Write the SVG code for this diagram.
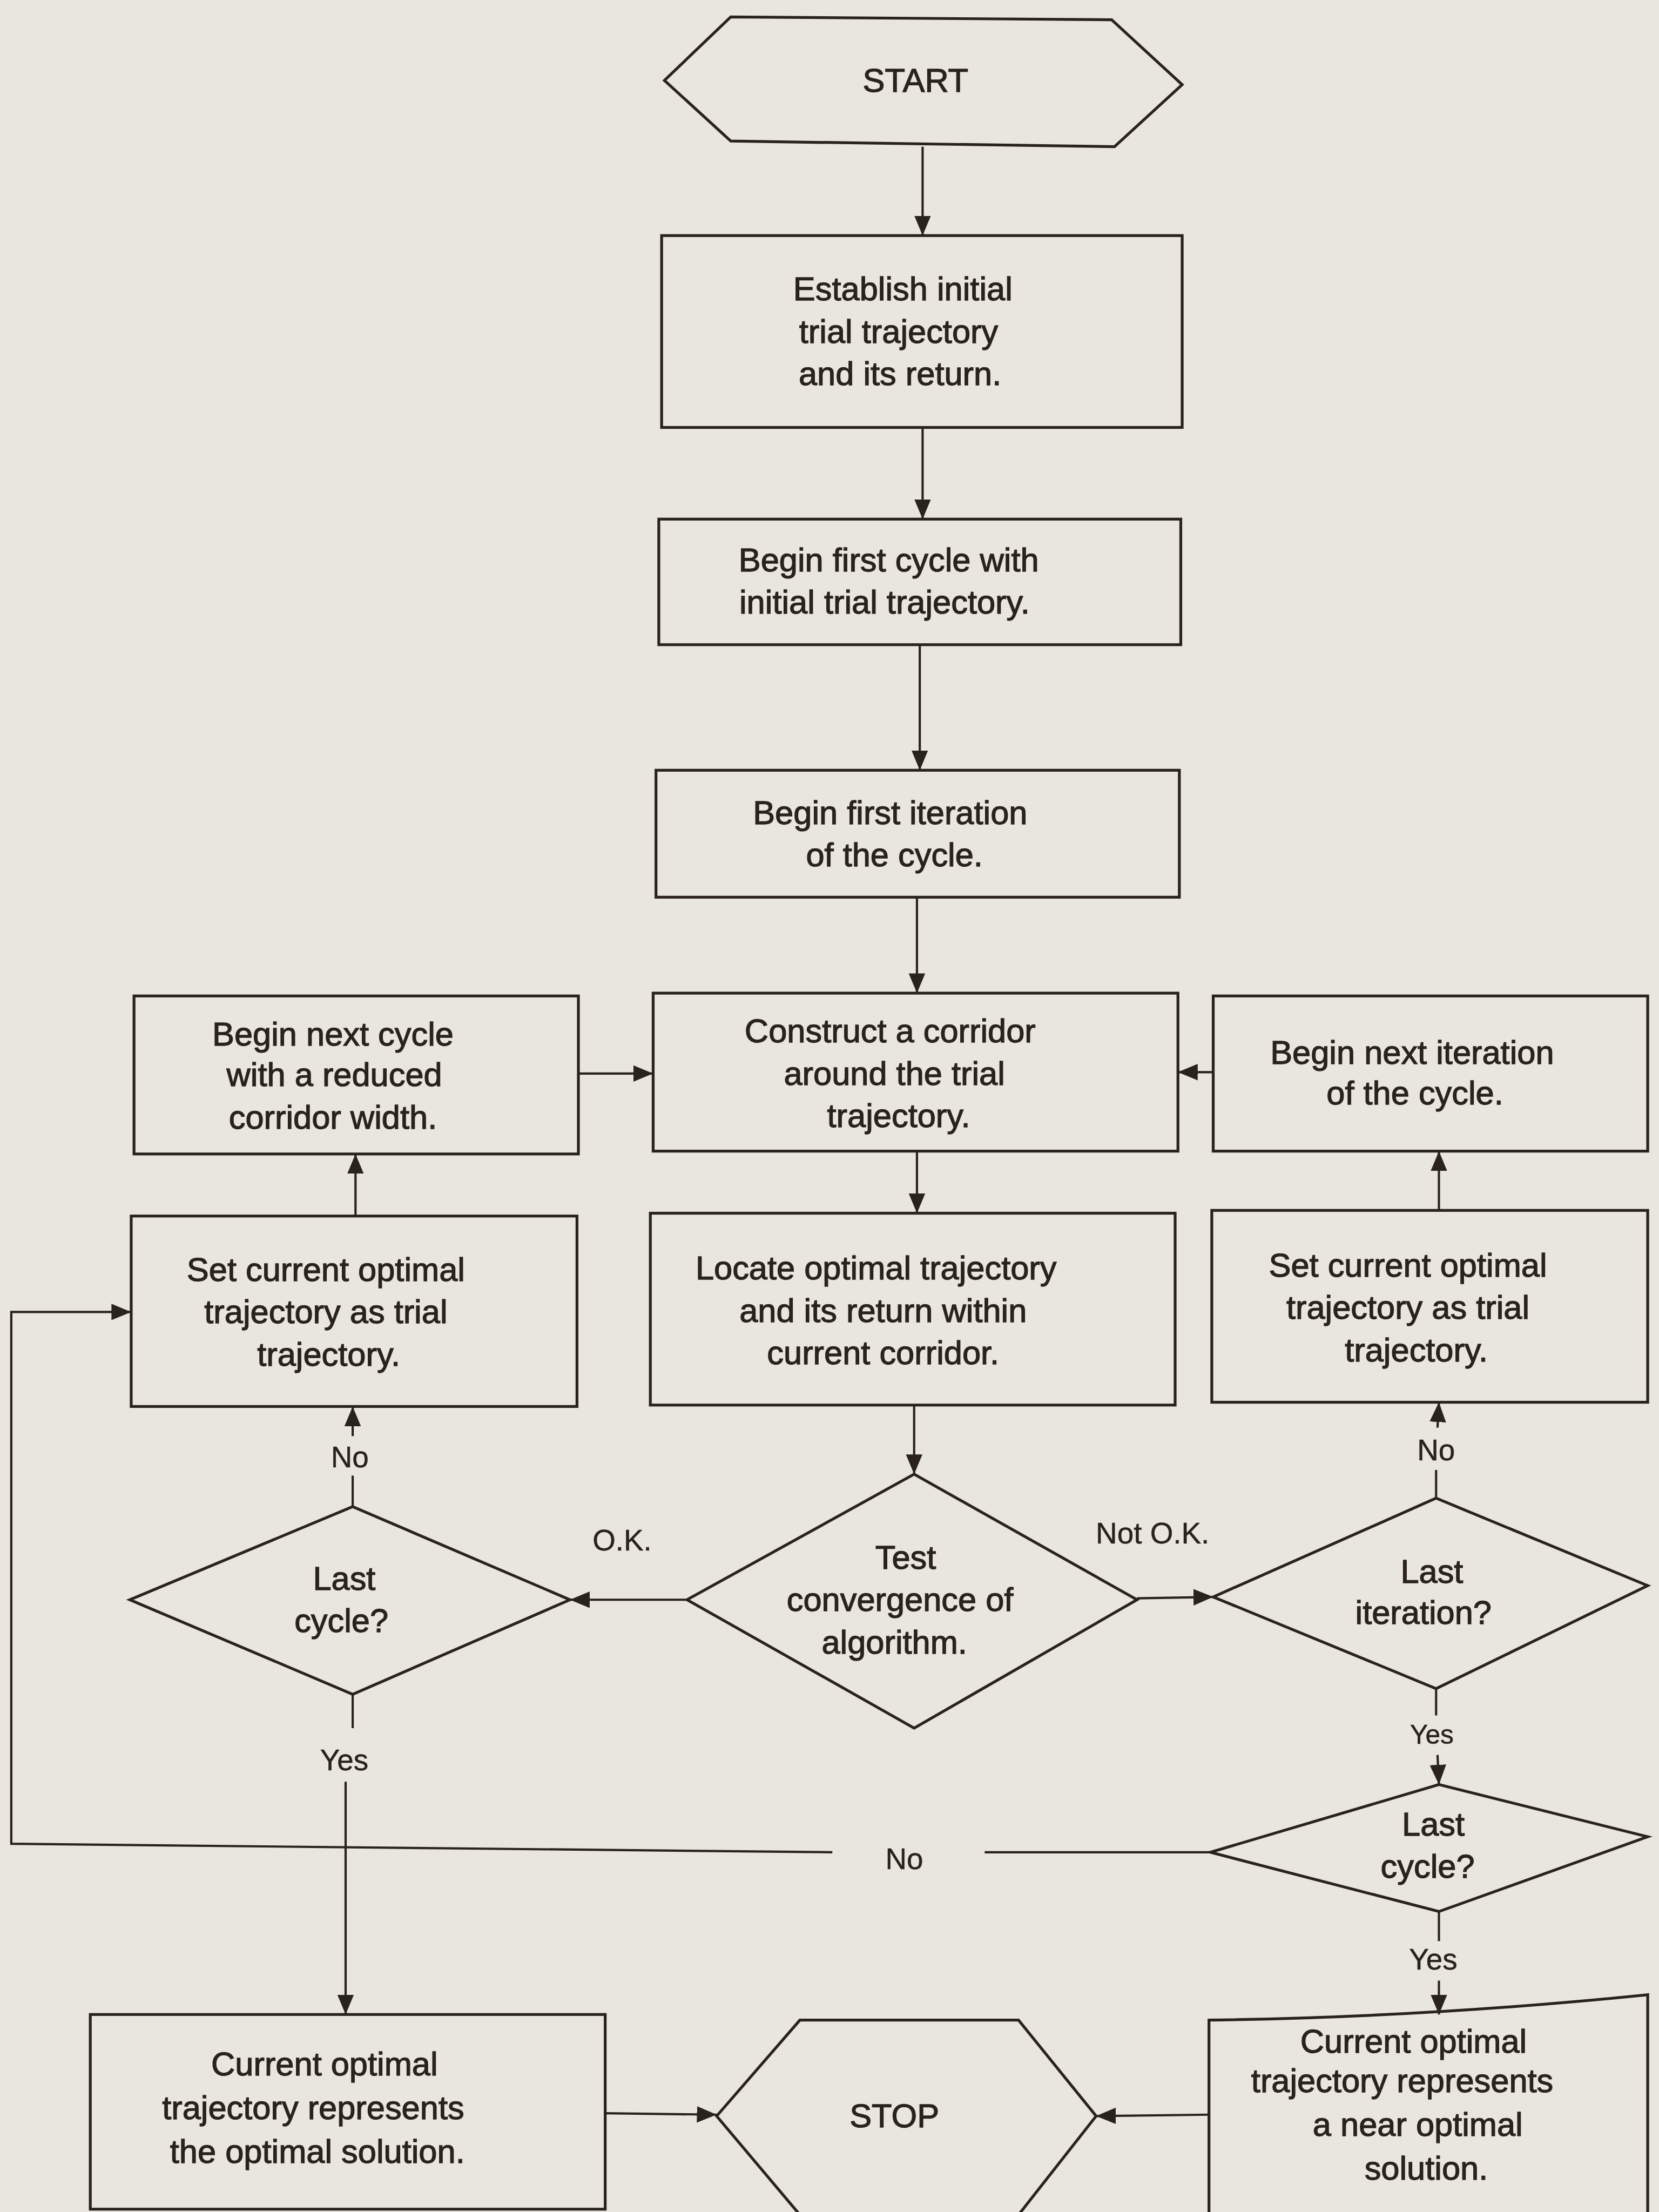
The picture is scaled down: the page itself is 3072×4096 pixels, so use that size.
<svg xmlns="http://www.w3.org/2000/svg" width="3072" height="4096" viewBox="0 0 3072 4096">
<defs>
<style>
.bg{fill:#e8e6dd}
.shape{fill:none;stroke:#2a221d;stroke-width:2;stroke-linejoin:miter}
.conn{fill:none;stroke:#2a221d;stroke-width:1.6}
.t{font-family:"Liberation Sans",Arial,sans-serif;font-size:23.5px;fill:#2a221d;stroke:#2a221d;stroke-width:0.5;text-anchor:middle}
.l{font-family:"Liberation Sans",Arial,sans-serif;font-size:21px;fill:#2a221d;stroke:#2a221d;stroke-width:0.2;text-anchor:middle}
</style>
<marker id="ah" viewBox="0 0 12 10" refX="12" refY="5" markerWidth="14" markerHeight="12" markerUnits="userSpaceOnUse" orient="auto">
<path d="M0,0 L12,5 L0,10 z" fill="#2a221d"/>
</marker>
</defs>
<rect class="bg" x="0" y="0" width="3072" height="4096"/>
<g transform="scale(2.61224)">
<g id="start">
<polygon class="shape" points="471,57 518,12 788,14 838,60 790,104 518,100"/>
<text class="t" x="649" y="65">START</text>
</g>
<g id="establish">
<rect class="shape" x="469" y="167" width="369" height="136"/>
<text class="t" x="640" y="213">Establish initial</text>
<text class="t" x="637" y="243">trial trajectory</text>
<text class="t" x="638" y="273">and its return.</text>
</g>
<g id="begin-first-cycle">
<rect class="shape" x="467" y="368" width="370" height="89"/>
<text class="t" x="630" y="405">Begin first cycle with</text>
<text class="t" x="627" y="435">initial trial trajectory.</text>
</g>
<g id="begin-first-iteration">
<rect class="shape" x="465" y="546" width="371" height="90"/>
<text class="t" x="631" y="584">Begin first iteration</text>
<text class="t" x="634" y="614">of the cycle.</text>
</g>
<g id="construct-corridor">
<rect class="shape" x="463" y="704" width="372" height="112"/>
<text class="t" x="631" y="739">Construct a corridor</text>
<text class="t" x="634" y="769">around the trial</text>
<text class="t" x="637" y="799">trajectory.</text>
</g>
<g id="begin-next-cycle">
<rect class="shape" x="95" y="706" width="315" height="112"/>
<text class="t" x="236" y="741">Begin next cycle</text>
<text class="t" x="237" y="770">with a reduced</text>
<text class="t" x="236" y="800">corridor width.</text>
</g>
<g id="begin-next-iteration">
<rect class="shape" x="860" y="706" width="308" height="110"/>
<text class="t" x="1001" y="754">Begin next iteration</text>
<text class="t" x="1003" y="783">of the cycle.</text>
</g>
<g id="locate-optimal">
<rect class="shape" x="461" y="860" width="372" height="136"/>
<text class="t" x="621" y="907">Locate optimal trajectory</text>
<text class="t" x="626" y="937">and its return within</text>
<text class="t" x="626" y="967">current corridor.</text>
</g>
<g id="set-current-left">
<rect class="shape" x="93" y="862" width="316" height="135"/>
<text class="t" x="231" y="908">Set current optimal</text>
<text class="t" x="231" y="938">trajectory as trial</text>
<text class="t" x="233" y="968">trajectory.</text>
</g>
<g id="set-current-right">
<rect class="shape" x="859" y="858" width="309" height="136"/>
<text class="t" x="998" y="905">Set current optimal</text>
<text class="t" x="998" y="935">trajectory as trial</text>
<text class="t" x="1004" y="965">trajectory.</text>
</g>
<g id="test-convergence">
<polygon class="shape" points="648,1045 806,1134 648,1225 487,1134"/>
<text class="t" x="642" y="1112">Test</text>
<text class="t" x="638" y="1142">convergence of</text>
<text class="t" x="634" y="1172">algorithm.</text>
</g>
<g id="last-cycle-left">
<polygon class="shape" points="250,1068 404,1134 250,1201 92,1134"/>
<text class="t" x="244" y="1127">Last</text>
<text class="t" x="242" y="1157">cycle?</text>
</g>
<g id="last-iteration">
<polygon class="shape" points="1018,1062 1168,1124 1018,1197 860,1132"/>
<text class="t" x="1015" y="1122">Last</text>
<text class="t" x="1009" y="1151">iteration?</text>
</g>
<g id="last-cycle-right">
<polygon class="shape" points="1020,1265 1168,1302 1020,1355 858,1313"/>
<text class="t" x="1016" y="1301">Last</text>
<text class="t" x="1012" y="1331">cycle?</text>
</g>
<g id="optimal-solution">
<rect class="shape" x="64" y="1428" width="365" height="138"/>
<text class="t" x="230" y="1471">Current optimal</text>
<text class="t" x="222" y="1502">trajectory represents</text>
<text class="t" x="225" y="1533">the optimal solution.</text>
</g>
<g id="stop">
<polygon class="shape" points="508,1500 567,1432 722,1432 777,1500 722,1570 567,1570"/>
<text class="t" x="634" y="1508">STOP</text>
</g>
<g id="near-optimal">
<path class="shape" d="M857,1432 Q1010,1430 1168,1414 L1168,1570 L857,1570 Z"/>
<text class="t" x="1002" y="1455">Current optimal</text>
<text class="t" x="994" y="1483">trajectory represents</text>
<text class="t" x="1005" y="1514">a near optimal</text>
<text class="t" x="1011" y="1545">solution.</text>
</g>
<g id="connectors">
<line class="conn" x1="654" y1="104" x2="654" y2="167" marker-end="url(#ah)"/>
<line class="conn" x1="654" y1="303" x2="654" y2="368" marker-end="url(#ah)"/>
<line class="conn" x1="652" y1="457" x2="652" y2="546" marker-end="url(#ah)"/>
<line class="conn" x1="650" y1="636" x2="650" y2="704" marker-end="url(#ah)"/>
<line class="conn" x1="410" y1="761" x2="463" y2="761" marker-end="url(#ah)"/>
<line class="conn" x1="860" y1="760" x2="835" y2="760" marker-end="url(#ah)"/>
<line class="conn" x1="650" y1="816" x2="650" y2="860" marker-end="url(#ah)"/>
<line class="conn" x1="252" y1="862" x2="252" y2="818" marker-end="url(#ah)"/>
<line class="conn" x1="1020" y1="858" x2="1020" y2="816" marker-end="url(#ah)"/>
<line class="conn" x1="648" y1="996" x2="648" y2="1045" marker-end="url(#ah)"/>
<line class="conn" x1="487" y1="1134" x2="404" y2="1134" marker-end="url(#ah)"/>
<line class="conn" x1="806" y1="1133" x2="860" y2="1132" marker-end="url(#ah)"/>
<line class="conn" x1="250" y1="1068" x2="250" y2="1046"/>
<line class="conn" x1="250" y1="1018" x2="250" y2="997" marker-end="url(#ah)"/>
<line class="conn" x1="1018" y1="1062" x2="1018" y2="1042"/>
<line class="conn" x1="1019" y1="1012" x2="1020" y2="994" marker-end="url(#ah)"/>
<line class="conn" x1="1018" y1="1197" x2="1018" y2="1216"/>
<line class="conn" x1="1019" y1="1244" x2="1020" y2="1265" marker-end="url(#ah)"/>
<line class="conn" x1="250" y1="1201" x2="250" y2="1225"/>
<line class="conn" x1="245" y1="1263" x2="245" y2="1428" marker-end="url(#ah)"/>
<line class="conn" x1="1020" y1="1355" x2="1020" y2="1376"/>
<line class="conn" x1="1020" y1="1404" x2="1020" y2="1428" marker-end="url(#ah)"/>
<polyline class="conn" points="858,1313 698,1313"/>
<polyline class="conn" points="590,1313 8,1307 8,930 93,930" marker-end="url(#ah)"/>
<line class="conn" x1="429" y1="1498" x2="508" y2="1499" marker-end="url(#ah)"/>
<line class="conn" x1="857" y1="1499" x2="777" y2="1500" marker-end="url(#ah)"/>
<text class="l" x="248" y="1040">No</text>
<text class="l" x="441" y="1099">O.K.</text>
<text class="l" x="817" y="1094">Not O.K.</text>
<text class="l" x="1018" y="1035">No</text>
<text class="l" x="244" y="1255">Yes</text>
<text class="l" x="1015" y="1236" style="font-size:19px">Yes</text>
<text class="l" x="641" y="1325">No</text>
<text class="l" x="1016" y="1396">Yes</text>
</g>
</g>
</svg>
